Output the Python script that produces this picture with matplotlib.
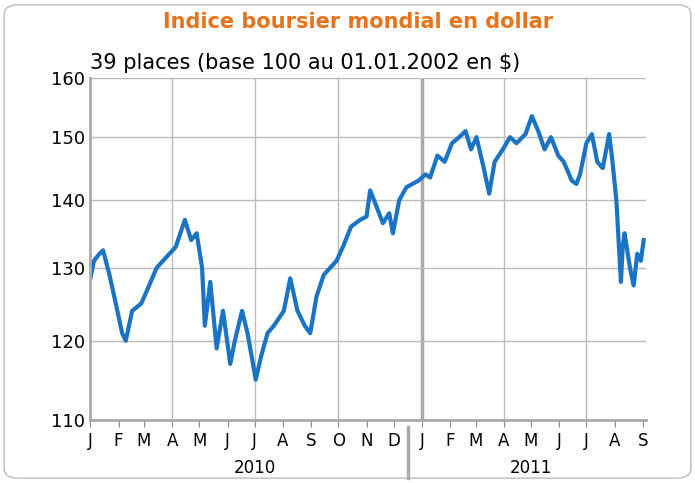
import matplotlib
matplotlib.use("Agg")
import matplotlib.pyplot as plt
from matplotlib.patches import FancyBboxPatch
import pandas as pd
from matplotlib.ticker import FixedLocator, NullLocator, NullFormatter

dates = ["2010-01-01","2010-01-05","2010-01-11","2010-01-15","2010-01-22","2010-01-29","2010-02-05","2010-02-09","2010-02-16","2010-02-26",
 "2010-03-05","2010-03-15","2010-03-29","2010-04-05","2010-04-15","2010-04-22","2010-04-28","2010-05-04","2010-05-07","2010-05-13","2010-05-20","2010-05-27",
 "2010-06-04","2010-06-09","2010-06-17","2010-06-23","2010-06-29","2010-07-02","2010-07-08","2010-07-15","2010-07-22","2010-08-02","2010-08-09","2010-08-17","2010-08-25","2010-08-31",
 "2010-09-07","2010-09-15","2010-09-29","2010-10-06","2010-10-15","2010-10-25","2010-11-01","2010-11-05","2010-11-12","2010-11-19","2010-11-26","2010-11-30",
 "2010-12-07","2010-12-15","2010-12-28","2011-01-05","2011-01-10","2011-01-18","2011-01-26","2011-02-03","2011-02-11","2011-02-18","2011-02-24","2011-03-02",
 "2011-03-10","2011-03-16","2011-03-22","2011-03-31","2011-04-08","2011-04-15","2011-04-25","2011-05-02","2011-05-09","2011-05-16","2011-05-23","2011-05-31",
 "2011-06-06","2011-06-15","2011-06-20","2011-06-24","2011-07-01","2011-07-07","2011-07-13","2011-07-19","2011-07-26","2011-07-29","2011-08-03","2011-08-08",
 "2011-08-10","2011-08-12","2011-08-18","2011-08-22","2011-08-26","2011-08-30","2011-09-02"]
values = [128.5,131,132,132.5,129,125,121,120,124,125,
 127,130,132,133,137,134,135,130,122,128,119,124,
 117,120,124,121,117,115,118,121,122,124,128.5,124,122,121,
 126,129,131,133,136,137,137.5,141.5,139,136.5,138,135,
 140,142,143,144,143.5,147,146,149,150,151,148,150,
 145,141,146,148,150,149,150.5,153.5,151,148,150,147,
 146,143,142.5,144,149,150.5,146,145,150.5,147,140,128,
 133,135,130,127.5,132,131,134]

x = pd.to_datetime(dates)
fig = plt.figure(figsize=(6.95,4.83), dpi=100)
box = FancyBboxPatch((0.006,0.01),0.988,0.98,boxstyle="round,pad=0,rounding_size=0.02",
    transform=fig.transFigure, fc="none", ec="#bbbbbb", lw=1, zorder=-5)
fig.patches.append(box)
ax = fig.add_axes([0.13, 0.13, 0.80, 0.708])
ax.patch.set_alpha(0)
ax.plot(x, values, color="#1a73c4", lw=3)
ax.set_yscale("log")
ax.set_ylim(110,160)
yt=[110,120,130,140,150,160]
ax.yaxis.set_major_locator(FixedLocator(yt))
ax.yaxis.set_minor_locator(NullLocator()); ax.yaxis.set_minor_formatter(NullFormatter())
ax.set_yticklabels([str(v) for v in yt], fontsize=13)
ax.set_xlim(pd.Timestamp("2010-01-01"), pd.Timestamp("2011-09-05"))
months = pd.date_range("2010-01-01","2011-09-01",freq="MS")
ax.set_xticks(months)
ax.set_xticklabels(["JFMAMJJASOND"[m.month-1] for m in months], fontsize=12)
ax.tick_params(axis="x", length=5, color="#888888")
ax.tick_params(axis="y", length=0)
ax.grid(axis="y", color="#bbbbbb", lw=1)
for m in months:
    if m.month in (4,7,10):
        ax.axvline(m, color="#bbbbbb", lw=1, zorder=0)
ax.axvline(pd.Timestamp("2011-01-01"), color="#aaaaaa", lw=2.5, zorder=0)
for s in ax.spines.values(): s.set_color("#aaaaaa")
ax.spines["top"].set_visible(False); ax.spines["right"].set_visible(False)
ax.spines["left"].set_linewidth(2); ax.spines["bottom"].set_linewidth(2)
ax.text(pd.Timestamp("2010-07-01"), -0.14, "2010", transform=ax.get_xaxis_transform(), ha="center", va="center", fontsize=12)
ax.text(pd.Timestamp("2011-05-01"), -0.14, "2011", transform=ax.get_xaxis_transform(), ha="center", va="center", fontsize=12)
ax.plot([pd.Timestamp("2010-12-17")]*2, [-0.02,-0.17], transform=ax.get_xaxis_transform(), color="#aaaaaa", lw=2.5, clip_on=False)
fig.text(0.515, 0.955, "Indice boursier mondial en dollar", ha="center", va="center", fontsize=15, color="#e8731a", fontweight="bold")
fig.text(0.13, 0.87, "39 places (base 100 au 01.01.2002 en $)", ha="left", va="center", fontsize=15)
fig.savefig("out.png", dpi=100)
